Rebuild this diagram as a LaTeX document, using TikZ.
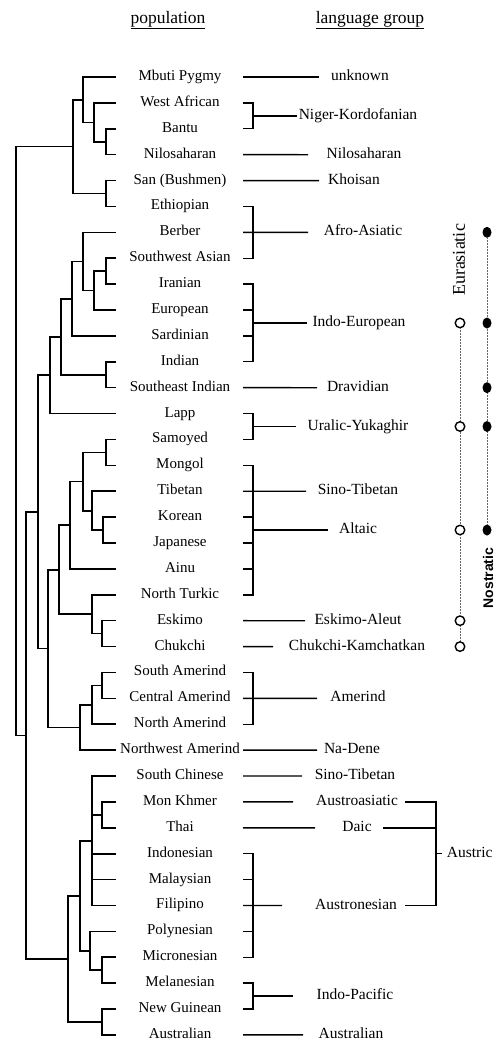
\documentclass[tikz,border=0pt]{standalone}
\usepackage{fontspec}
\setmainfont{Liberation Serif}
\newfontfamily\sansbold{Liberation Sans}
\usepackage{tikz}
\usetikzlibrary{shapes.geometric}

\begin{document}
\begin{tikzpicture}[x=1pt,y=1pt,yscale=-1,
  pop/.style={inner sep=0.75pt,font=\fontsize{15}{18}\selectfont,text height=10pt,text depth=3pt},
  lang/.style={inner sep=0.75pt,font=\fontsize{15.5}{18}\selectfont,text height=10pt,text depth=3pt},
  heading/.style={inner sep=0.75pt,font=\fontsize{17.5}{20}\selectfont,anchor=base},
  tree/.style={line width=1.6pt},
  link/.style={line width=1.4pt},
  dotline/.style={densely dotted,line width=0.5pt,black!60},
  fullmark/.style={ellipse,fill,inner sep=0pt,minimum width=9pt,minimum height=11pt},
  openmark/.style={circle,draw,line width=1.4pt,fill=white,inner sep=0pt,minimum size=9.5pt}]
\useasboundingbox (0,0) rectangle (501,1042);

% Text Node: headings
\node[heading] (poptitle) at (168,23) {\underline{population}};
\node[heading] (langtitle) at (370,23) {\underline{language group}};

% Text Node: populations, one row each
\foreach \nm/\lb [count=\i from 0] in {mbuti/Mbuti Pygmy, wafr/West African, bantu/Bantu,
    nilo/Nilosaharan, san/San (Bushmen), ethio/Ethiopian, berber/Berber, swasia/Southwest Asian,
    iran/Iranian, europ/European, sard/Sardinian, indian/Indian, seind/Southeast Indian,
    lapp/Lapp, samoy/Samoyed, mongol/Mongol, tibet/Tibetan, korea/Korean, japan/Japanese,
    ainu/Ainu, nturk/North Turkic, eskimo/Eskimo, chukchi/Chukchi, samer/South Amerind,
    camer/Central Amerind, namer/North Amerind, nwamer/Northwest Amerind, schin/South Chinese,
    monkh/Mon Khmer, thai/Thai, indon/Indonesian, malay/Malaysian, filip/Filipino,
    polyn/Polynesian, micro/Micronesian, melan/Melanesian, newg/New Guinean, austr/Australian}{
  \pgfmathsetmacro\yy{77+25.89*\i}
  \node[pop] (\nm) at (180,\yy) {\lb};
  \coordinate (\nm-t) at (116,\yy);
  \coordinate (\nm-r) at (243,\yy);
}

% tree: branch points
\foreach \c/\x/\y in {bn/106/141.7, wab/94/122.3, mb/83/99.7, se/106/193.5, afr/73/146.6,
    si/106/271.2, sie/94/290.6, bse/83/261.5, bs/72/298.7, ii/106/374.7, bsi/61/336.7,
    eur/50/375.2, sm/106/452.4, kj/103/530.1, tkj/92/510.7, smt/83/481.5, ea/70/525.2,
    ec/102/633.6, nt/92/614.2, asia/59/569.7, sc/102/685.4, am/92/704.8, amer/80/727.5,
    asam/48/648.6, eura/38/511.9, mt/102/814.9, sea/92/840.8, mm/102/970.2, pmm/90/950.8,
    aus/80/895.8, ng/102/1022, ausng/68/958.9, nonafr/26/735.4, root/16/441}
  \coordinate (\c) at (\x,\y);

% tree: branches
\foreach \p/\q in {bn/bantu-t, bn/nilo-t, wab/wafr-t, wab/bn, mb/mbuti-t, mb/wab,
    se/san-t, se/ethio-t, afr/mb, afr/se,
    si/swasia-t, si/iran-t, sie/si, sie/europ-t, bse/berber-t, bse/sie, bs/bse, bs/sard-t,
    ii/indian-t, ii/seind-t, bsi/bs, bsi/ii, eur/bsi, eur/lapp-t,
    sm/samoy-t, sm/mongol-t, kj/korea-t, kj/japan-t, tkj/tibet-t, tkj/kj, smt/sm, smt/tkj,
    ea/smt, ea/ainu-t, ec/eskimo-t, ec/chukchi-t, nt/nturk-t, nt/ec, asia/ea, asia/nt,
    sc/samer-t, sc/camer-t, am/sc, am/namer-t, amer/am, amer/nwamer-t, asam/asia, asam/amer,
    eura/eur, eura/asam,
    mt/monkh-t, mt/thai-t, sea/schin-t, sea/mt, sea/indon-t, sea/malay-t, sea/filip-t,
    mm/micro-t, mm/melan-t, pmm/polyn-t, pmm/mm, aus/sea, aus/pmm,
    ng/newg-t, ng/austr-t, ausng/aus, ausng/ng,
    nonafr/eura, nonafr/ausng, root/afr, root/nonafr}
  \draw[tree] (\p) |- (\q);

% Text Node: language groups
\node[lang] (unknown) at (360,77) {unknown};
\node[lang] (nigerk) at (358,115.8) {Niger-Kordofanian};
\node[lang] (nilosah) at (364,154.7) {Nilosaharan};
\node[lang] (khoisan) at (354,180.6) {Khoisan};
\node[lang] (afroas) at (363,232.3) {Afro-Asiatic};
\node[lang] (indoeur) at (359,323) {Indo-European};
\node[lang] (dravid) at (358,387.7) {Dravidian};
\node[lang] (uralic) at (358,426.5) {Uralic-Yukaghir};
\node[lang] (sinotib) at (358,491.2) {Sino-Tibetan};
\node[lang] (altaic) at (358,530) {Altaic};
\node[lang] (eskale) at (358,620.7) {Eskimo-Aleut};
\node[lang] (chukam) at (357,646.6) {Chukchi-Kamchatkan};
\node[lang] (amerind) at (358,698.4) {Amerind};
\node[lang] (nadene) at (352,750.1) {Na-Dene};
\node[lang] (sinotibb) at (355,776) {Sino-Tibetan};
\node[lang] (austroas) at (357,801.9) {Austroasiatic};
\node[lang] (daic) at (357,827.8) {Daic};
\node[lang] (austron) at (356,905.5) {Austronesian};
\node[lang] (indopac) at (355,996.1) {Indo-Pacific};
\node[lang] (austral) at (351,1034.9) {Australian};
\node[lang,anchor=west] (austric) at (446,853.7) {Austric};

% brackets and links
\coordinate (bk) at (253,0);
\draw[link] (mbuti-r) -- (319,0 |- unknown);
\draw[link] (wafr-r) -| (bk |- nigerk) |- (bantu-r);
\draw[link] (bk |- nigerk) -- (297,0 |- nigerk);
\draw[link] (nilo-r) -- (308,0 |- nilosah);
\draw[link] (san-r) -- (319,0 |- khoisan);
\draw[link] (ethio-r) -| (bk |- afroas) |- (swasia-r);
\draw[link] (berber-r) -- (308,0 |- afroas);
\draw[link] (iran-r) -| (bk |- indoeur) |- (indian-r);
\draw[link] (europ-r) -- (bk |- europ-r) (sard-r) -- (bk |- sard-r);
\draw[link] (bk |- indoeur) -- (307,0 |- indoeur);
\draw[link] (seind-r) -- (317,0 |- dravid);
\draw[link] (lapp-r) -| (bk |- uralic) |- (samoy-r);
\draw[link] (bk |- uralic) -- (296,0 |- uralic);
\draw[link] (mongol-r) -| (bk |- altaic) |- (nturk-r);
\draw[link] (korea-r) -- (bk |- korea-r) (japan-r) -- (bk |- japan-r) (ainu-r) -- (bk |- ainu-r);
\draw[link] (tibet-r) -- (306,0 |- sinotib);
\draw[link] (bk |- altaic) -- (328,0 |- altaic);
\draw[link] (eskimo-r) -- (305,0 |- eskale);
\draw[link] (chukchi-r) -- (273,0 |- chukam);
\draw[link] (samer-r) -| (bk |- amerind) |- (namer-r);
\draw[link] (camer-r) -- (317,0 |- amerind);
\draw[link] (nwamer-r) -- (317,0 |- nadene);
\draw[link] (schin-r) -- (302,0 |- sinotibb);
\draw[link] (monkh-r) -- (293,0 |- austroas);
\draw[link] (thai-r) -- (315,0 |- daic);
\draw[link] (indon-r) -| (bk |- austron) |- (micro-r);
\draw[link] (malay-r) -- (bk |- malay-r) (polyn-r) -- (bk |- polyn-r);
\draw[link] (filip-r) -- (282,0 |- austron);
\draw[link] (melan-r) -| (bk |- indopac) |- (newg-r);
\draw[link] (bk |- indopac) -- (293,0 |- indopac);
\draw[link] (austr-r) -- (303,0 |- austral);

% Austric
\coordinate (ak) at (436,0);
\draw[link] (405,0 |- austroas) -| (ak |- austron) -- (405,0 |- austron);
\draw[link] (383,0 |- daic) -- (ak |- daic);
\draw[link] (ak |- austric) -- ([xshift=-4pt]austric.west);

% Eurasiatic and Nostratic
\foreach \m/\y in {1/323,2/426.5,3/530,4/620.7,5/646.6}
  \node[openmark] (eu\m) at (460,\y) {};
\foreach \m/\y in {1/232.3,2/323,3/387.7,4/426.5,5/530}
  \node[fullmark] (no\m) at (487,\y) {};
\foreach \a/\b in {1/2,2/3,3/4,4/5}
  \draw[dotline] (eu\a) -- (eu\b) (no\a) -- (no\b);
\node[rotate=90,font=\fontsize{18}{20}\selectfont] (eurasiatic) at (459,260) {Eurasiatic};
\node[rotate=90,font=\sansbold\bfseries\fontsize{14}{16}\selectfont] (nostratic) at (488,578) {Nostratic};

\end{tikzpicture}
\end{document}
